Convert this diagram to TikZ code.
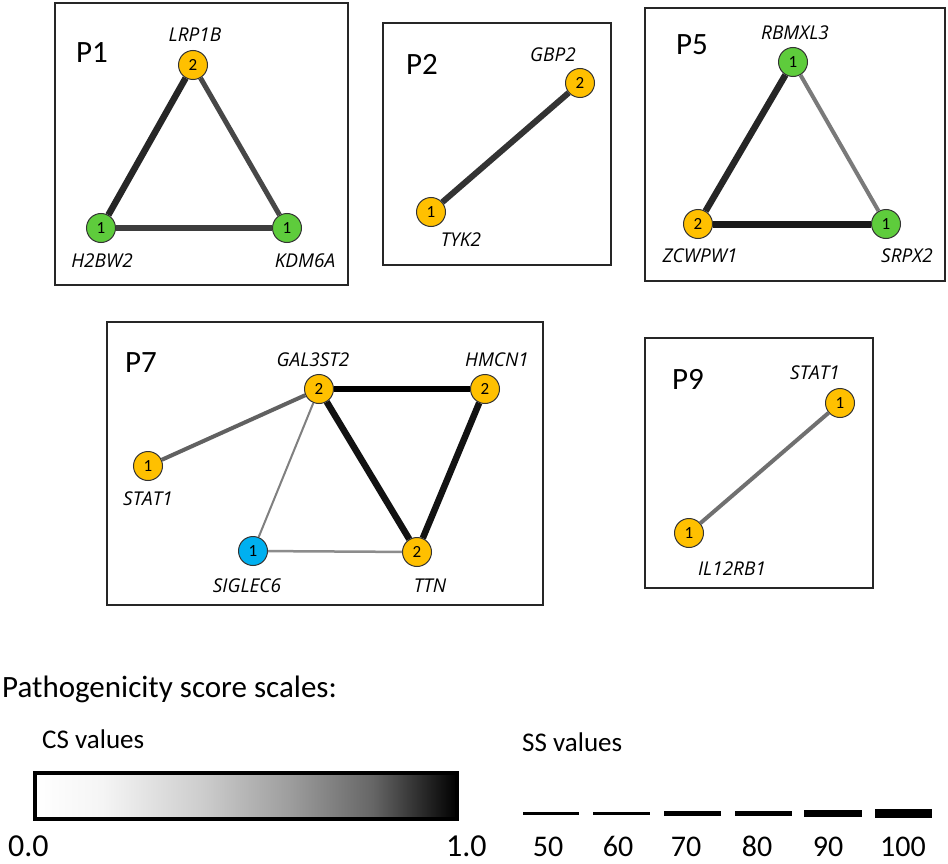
\documentclass[tikz,border=0pt]{standalone}
\usepackage{fontspec}
\setmainfont{Carlito}
\newfontfamily\lblfont{Open Sans}
\definecolor{gold}{HTML}{FFC000}
\definecolor{grn}{HTML}{5ECC3C}
\definecolor{blu}{HTML}{00B0F0}
\definecolor{ndraw}{HTML}{333333}
\pgfdeclarehorizontalshading{csgrad}{100bp}{color(0bp)=(white); color(25bp)=(white); color(33bp)=(white!96!black); color(45bp)=(white!80!black); color(55bp)=(white!62!black); color(65bp)=(white!40!black); color(75bp)=(black); color(100bp)=(black)}
\tikzset{
  gene/.style={circle, draw=ndraw, line width=1pt, minimum size=29pt, inner sep=0pt, font=\fontsize{17}{17}\selectfont},
  og/.style={gene, fill=gold},
  gg/.style={gene, fill=grn},
  bg/.style={gene, fill=blu},
  glabel/.style={font=\lblfont\itshape\fontsize{19}{21}\selectfont, inner sep=0pt},
  pbox/.style={draw=black!85, line width=1.5pt},
  plabel/.style={font=\fontsize{31}{34}\selectfont, inner sep=0pt},
  lgtext/.style={inner sep=0pt, anchor=base west},
  sslabel/.style={inner sep=0pt, anchor=base, font=\fontsize{30}{32}\selectfont},
}
\begin{document}
\begin{tikzpicture}[x=1pt,y=-1pt]
\useasboundingbox[fill=white] (0,0) rectangle (948,864);

% ---------- P1 ----------
\draw[pbox] (55,3) rectangle (348,285);
\node[plabel] (p1) at (92,53) {P1};
\node[og] (lrp1b) at (193,65) {2};
\node[gg] (h2bw2) at (101,228) {1};
\node[gg] (kdm6a) at (287,228) {1};
\node[glabel] (lrp1bL) at (195,35) {LRP1B};
\node[glabel] (h2bw2L) at (102,261) {H2BW2};
\node[glabel] (kdm6aL) at (305,261) {KDM6A};
\draw[draw=black!85, line width=6.5pt] (lrp1b) -- (h2bw2);
\draw[draw=black!72, line width=5pt] (lrp1b) -- (kdm6a);
\draw[draw=black!76, line width=5.5pt] (h2bw2) -- (kdm6a);

% ---------- P2 ----------
\draw[pbox] (383,23) rectangle (611,265);
\node[plabel] (p2) at (422,64) {P2};
\node[og] (gbp2) at (580,83) {2};
\node[og] (tyk2) at (431,212) {1};
\node[glabel] (gbp2L) at (553,55) {GBP2};
\node[glabel] (tyk2L) at (461,240) {TYK2};
\draw[draw=black!80, line width=6pt] (tyk2) -- (gbp2);

% ---------- P5 ----------
\draw[pbox] (645,8) rectangle (945,281);
\node[plabel] (p5) at (692,45) {P5};
\node[gg] (rbmxl3) at (793,62) {1};
\node[og] (zcwpw1) at (698,224) {2};
\node[gg] (srpx2) at (886,224) {1};
\node[glabel] (rbmxl3L) at (795,33) {RBMXL3};
\node[glabel] (zcwpw1L) at (700,256) {ZCWPW1};
\node[glabel] (srpx2L) at (907,256) {SRPX2};
\draw[draw=black!85, line width=6.5pt] (rbmxl3) -- (zcwpw1);
\draw[draw=black!52, line width=4pt] (rbmxl3) -- (srpx2);
\draw[draw=black!90, line width=7pt] (zcwpw1) -- (srpx2);

% ---------- P7 ----------
\draw[pbox] (107,322) rectangle (543,605);
\node[plabel] (p7) at (141,363) {P7};
\node[og] (gal3st2) at (319,389) {2};
\node[og] (hmcn1) at (485,389) {2};
\node[og] (stat1a) at (148,466) {1};
\node[bg] (siglec6) at (253,551) {1};
\node[og] (ttn) at (417,552) {2};
\node[glabel] (gal3st2L) at (313,360) {GAL3ST2};
\node[glabel] (hmcn1L) at (497,360) {HMCN1};
\node[glabel] (stat1aL) at (148,499) {STAT1};
\node[glabel] (siglec6L) at (247,586) {SIGLEC6};
\node[glabel] (ttnL) at (430,586) {TTN};
\draw[draw=black, line width=6.5pt] (gal3st2) -- (hmcn1);
\draw[draw=black!93, line width=6.5pt] (gal3st2) -- (ttn);
\draw[draw=black!93, line width=6.5pt] (hmcn1) -- (ttn);
\draw[draw=black!62, line width=4pt] (stat1a) -- (gal3st2);
\draw[draw=black!50, line width=2pt] (gal3st2) -- (siglec6);
\draw[draw=black!45, line width=2.5pt] (siglec6) -- (ttn);

% ---------- P9 ----------
\draw[pbox] (645,338) rectangle (873,588);
\node[plabel] (p9) at (688,379) {P9};
\node[og] (stat1b) at (840,403) {1};
\node[og] (il12rb1) at (689,533) {1};
\node[glabel] (stat1bL) at (815,373) {STAT1};
\node[glabel] (il12rb1L) at (732,569) {IL12RB1};
\draw[draw=black!56, line width=4pt] (il12rb1) -- (stat1b);

% ---------- Legend ----------
\node[lgtext, font=\fontsize{31}{34}\selectfont] (title) at (2,697) {Pathogenicity score scales:};
\node[lgtext, font=\fontsize{27}{30}\selectfont] (csv) at (42,748) {CS values};
\node[lgtext, font=\fontsize{27}{30}\selectfont] (ssv) at (522,751) {SS values};
\path[shading=csgrad] (35,773) rectangle (457,819);
\draw[draw=black, line width=4pt] (35,773) rectangle (457,819);
\node[lgtext, font=\fontsize{32}{35}\selectfont] (cs0) at (8,856) {0.0};
\node[lgtext, font=\fontsize{32}{35}\selectfont] (cs1) at (446,856) {1.0};

\coordinate (s1a) at (523,813); \coordinate (s1b) at (579,813);
\coordinate (s2a) at (593,813); \coordinate (s2b) at (650,813);
\coordinate (s3a) at (664,813); \coordinate (s3b) at (721,813);
\coordinate (s4a) at (735,813); \coordinate (s4b) at (792,813);
\coordinate (s5a) at (804,813); \coordinate (s5b) at (862,813);
\coordinate (s6a) at (875,813); \coordinate (s6b) at (932,813);
\draw[line width=3pt] (s1a) -- (s1b);
\draw[line width=3pt] (s2a) -- (s2b);
\draw[line width=5pt] (s3a) -- (s3b);
\draw[line width=5pt] (s4a) -- (s4b);
\draw[line width=7pt] (s5a) -- (s5b);
\draw[line width=9pt] (s6a) -- (s6b);
\node[sslabel] (l50) at (548,856) {50};
\node[sslabel] (l60) at (618,856) {60};
\node[sslabel] (l70) at (686,856) {70};
\node[sslabel] (l80) at (757,856) {80};
\node[sslabel] (l90) at (828,856) {90};
\node[sslabel] (l100) at (903,856) {100};
\end{tikzpicture}
\end{document}
